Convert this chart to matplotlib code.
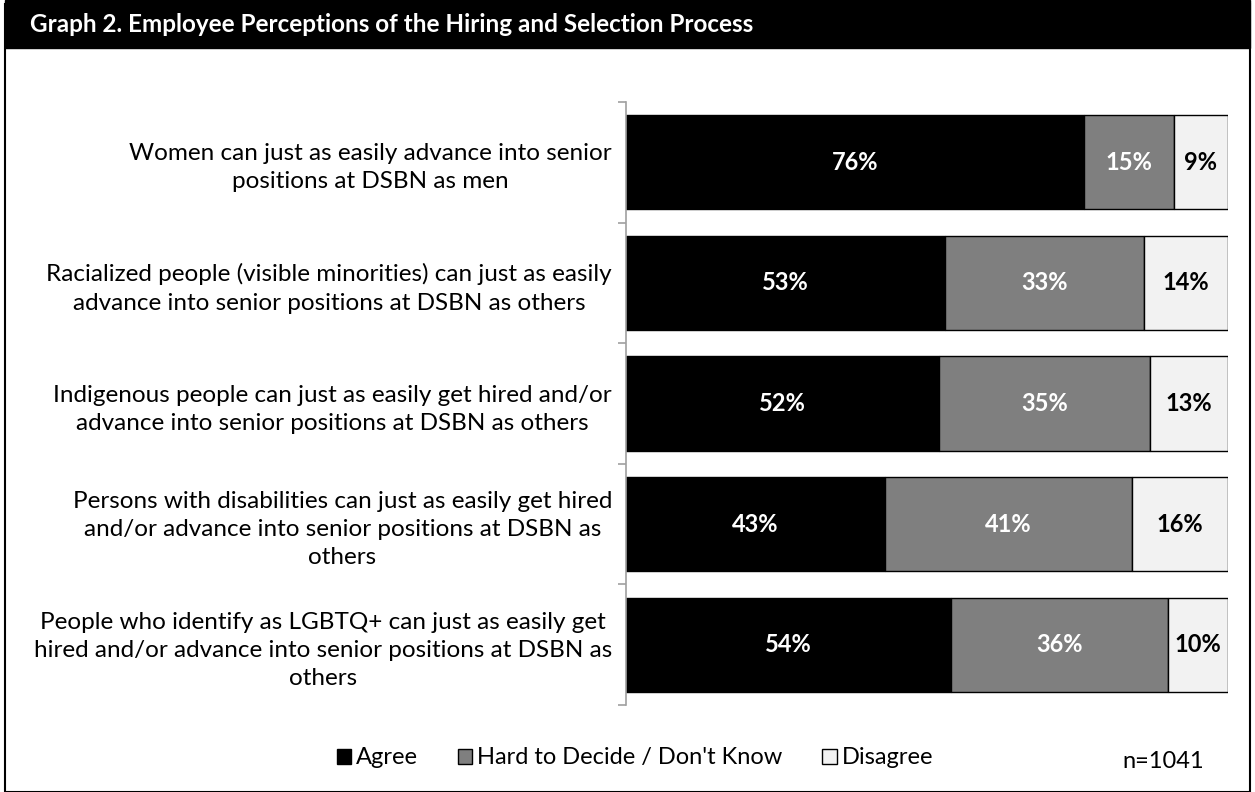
import matplotlib.pyplot as plt
from matplotlib.patches import Rectangle
import numpy as np

plt.rcParams["font.family"] = ["Lato", "DejaVu Sans"]

statements = [
    "Women can just as easily advance into senior\npositions at DSBN as men",
    "Racialized people (visible minorities) can just as easily\nadvance into senior positions at DSBN as others",
    "Indigenous people can just as easily get hired and/or\nadvance into senior positions at DSBN as others",
    "Persons with disabilities can just as easily get hired\nand/or advance into senior positions at DSBN as\nothers",
    "People who identify as LGBTQ+ can just as easily get\nhired and/or advance into senior positions at DSBN as\nothers",
]
agree = [76, 53, 52, 43, 54]
unsure = [15, 33, 35, 41, 36]
disagree = [9, 14, 13, 16, 10]

series = [
    ("Agree", agree, "#000000", "white"),
    ("Hard to Decide / Don't Know", unsure, "#7f7f7f", "white"),
    ("Disagree", disagree, "#f2f2f2", "black"),
]

fig = plt.figure(figsize=(12.55, 7.92), dpi=100)

# header and frame
fig.patches.append(Rectangle((0.004, 0.0), 0.992, 0.995, transform=fig.transFigure,
                             fill=False, edgecolor="black", linewidth=1.5))
fig.patches.append(Rectangle((0.004, 0.94), 0.992, 0.06, transform=fig.transFigure,
                             facecolor="black", edgecolor="black"))
fig.text(0.024, 0.969, "Graph 2. Employee Perceptions of the Hiring and Selection Process",
         color="white", fontsize=17.5, fontweight="bold", va="center", ha="left")

ax = fig.add_axes([0.4988, 0.1098, 0.4797, 0.7614])
y = np.arange(len(statements))
left = np.zeros(len(statements))
handles = []
for name, vals, color, tcolor in series:
    vals = np.array(vals)
    bars = ax.barh(y, vals, left=left, height=0.78, color=color,
                   edgecolor="black", linewidth=1, label=name)
    handles.append(bars)
    for yi, l, v in zip(y, left, vals):
        ax.text(l + v / 2, yi, f"{v}%", ha="center", va="center",
                color=tcolor, fontsize=17, fontweight="bold")
    left += vals

ax.set_xlim(0, 100)
ax.set_ylim(len(statements) - 0.5, -0.5)
ax.set_xticks([])
ax.set_yticks(y)
ax.set_yticklabels(statements, fontsize=17.5, multialignment="center", linespacing=1.42)
ax.tick_params(axis="y", which="major", length=0, pad=10)
ax.set_yticks(np.arange(-0.5, len(statements)), minor=True)
ax.tick_params(axis="y", which="minor", length=6, color="#a0a0a0", width=1.2)
for s in ["top", "right", "bottom"]:
    ax.spines[s].set_visible(False)
ax.spines["left"].set_color("#a0a0a0")
ax.spines["left"].set_linewidth(1.2)

fig.legend(handles=handles, loc="center", bbox_to_anchor=(0.506, 0.043), ncol=3,
           frameon=False, fontsize=17, handlelength=0.6, handleheight=0.6,
           handletextpad=0.2, columnspacing=1.7)
fig.text(0.927, 0.038, "n=1041", fontsize=17, ha="center", va="center")

fig.savefig("out.png", dpi=100)
